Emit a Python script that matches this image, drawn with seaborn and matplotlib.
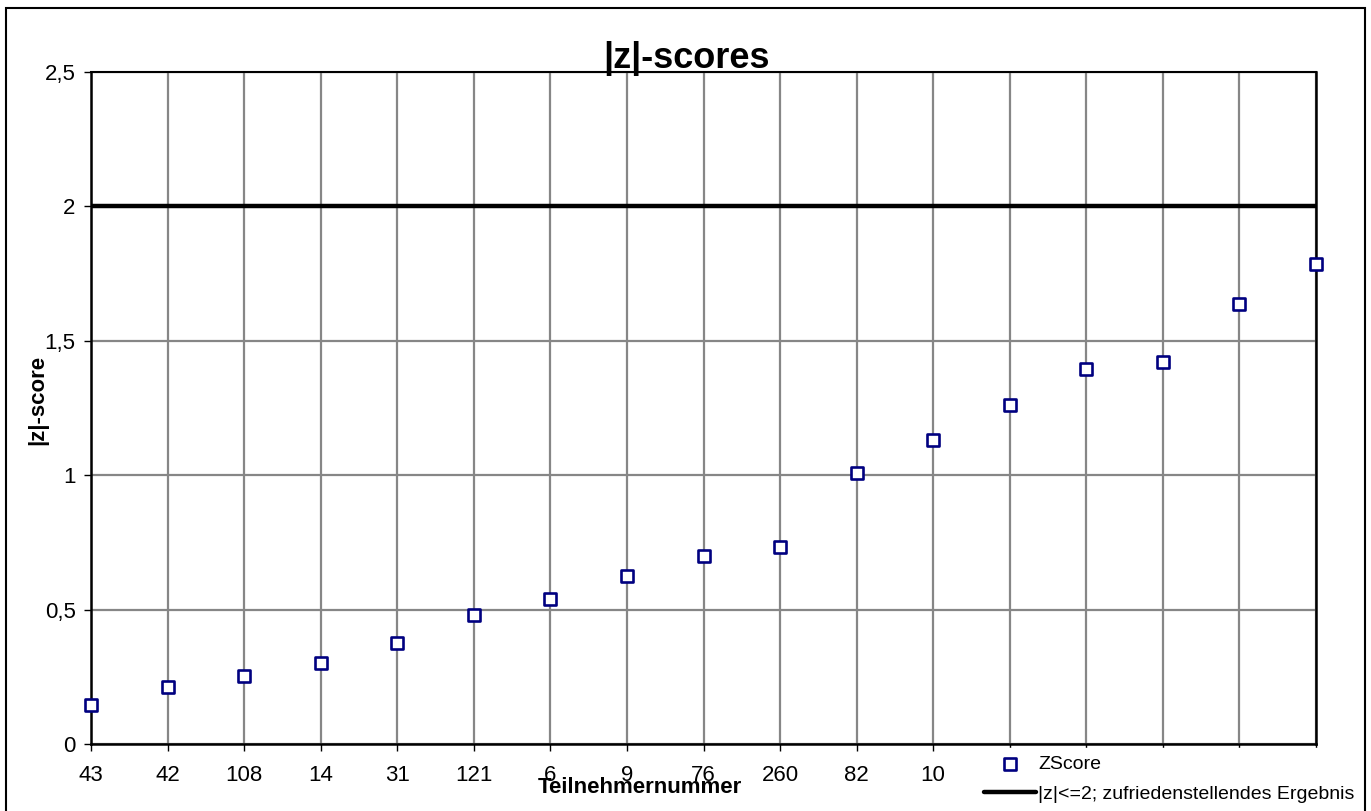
import matplotlib
matplotlib.use("Agg")
import matplotlib.pyplot as plt
import matplotlib.patches as mpatches
import seaborn as sns
import pandas as pd

# participant numbers (last five are hidden behind the legend in the original)
participants = ["43", "42", "108", "14", "31", "121", "6", "9", "76", "260", "82", "10",
                "", "", "", "", ""]
zscores = [0.145, 0.211, 0.253, 0.302, 0.375, 0.480, 0.539, 0.625, 0.699, 0.734,
           1.009, 1.131, 1.261, 1.395, 1.422, 1.637, 1.785]
limit = 2.0
y_ticks = [0, 0.5, 1, 1.5, 2, 2.5]
y_tick_labels = ["0", "0,5", "1", "1,5", "2", "2,5"]

df = pd.DataFrame({"pos": range(len(zscores)), "z": zscores})

sns.set_style("white")
plt.rcParams["font.family"] = ["Liberation Sans", "DejaVu Sans"]
plt.rcParams["text.color"] = "black"
plt.rcParams["axes.labelcolor"] = "black"
plt.rcParams["xtick.color"] = "black"
plt.rcParams["ytick.color"] = "black"

fig = plt.figure(figsize=(13.71, 8.11), dpi=100)
ax = fig.add_axes([91 / 1371, 1 - 744 / 811, 1225 / 1371, 672 / 811])

ax.axhline(limit, color="black", lw=3.2, zorder=3,
           label="|z|<=2; zufriedenstellendes Ergebnis")
sns.scatterplot(data=df, x="pos", y="z", ax=ax, marker="s", s=82,
                facecolor="white", edgecolor="#000080", linewidth=1.9,
                label="ZScore", zorder=4, clip_on=False)

ax.set_xlim(0, len(zscores) - 1)
ax.set_ylim(0, 2.5)
ax.set_xticks(df["pos"])
ax.set_xticklabels(participants)
ax.set_yticks(y_ticks)
ax.set_yticklabels(y_tick_labels)
ax.tick_params(axis="both", labelsize=16, length=5, width=1, color="black",
               direction="out", bottom=True, left=True)
ax.tick_params(axis="x", pad=10)
ax.tick_params(axis="y", pad=6)

ax.grid(True, color="#868686", lw=1.6)
ax.set_axisbelow(True)
for side in ["left", "bottom", "right"]:
    ax.spines[side].set_color("black")
    ax.spines[side].set_linewidth(1.8)
ax.spines["top"].set_color("black")
ax.spines["top"].set_linewidth(1.5)

ax.set_xlabel("Teilnehmernummer", fontsize=16, fontweight="bold")
ax.xaxis.set_label_coords((640 - 91) / 1225, (744 - 777) / 672)
ax.set_ylabel("|z|-score", fontsize=16, fontweight="bold")
ax.yaxis.set_label_coords((48 - 91) / 1225, (744 - 400) / 672)
fig.text(686 / 1371, 1 - 68 / 811, "|z|-scores", fontsize=26, fontweight="bold",
         ha="center", va="baseline")

handles, labels = ax.get_legend_handles_labels()
ax.get_legend().remove()
order = [labels.index("ZScore"), labels.index("|z|<=2; zufriedenstellendes Ergebnis")]
leg = fig.legend([handles[i] for i in order], [labels[i] for i in order],
                 loc="upper left", bbox_to_anchor=(976 / 1371, 1 - 747.5 / 811),
                 frameon=True, fontsize=14, handlelength=2.7, handletextpad=0.1,
                 labelspacing=0.65, borderpad=0.4, borderaxespad=0)
leg.get_frame().set_edgecolor("white")
leg.get_frame().set_facecolor("white")
leg.get_frame().set_alpha(1)
leg.get_frame().set_boxstyle("square", pad=0)

# outer chart border
fig.patches.append(mpatches.Rectangle((6 / 1371, -0.05), 1359 / 1371, 1.05 - 8 / 811,
                                      transform=fig.transFigure, fill=False,
                                      edgecolor="black", lw=1.5, zorder=10))

fig.savefig("out.png", dpi=100)
